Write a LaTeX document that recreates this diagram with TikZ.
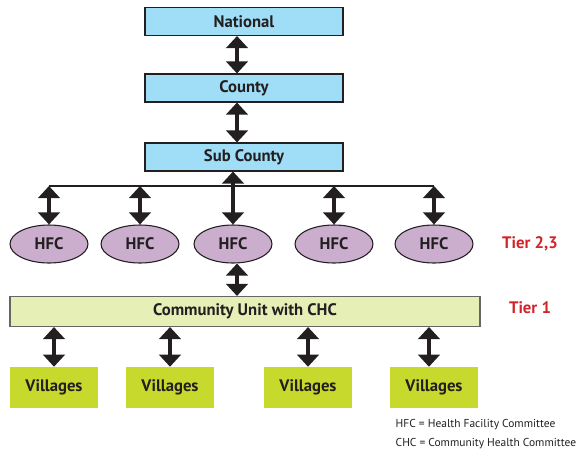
\documentclass[tikz,border=0pt]{standalone}
\usepackage{fontspec}
\setmainfont{PT Sans}
\usepackage{tikz}
\usetikzlibrary{arrows.meta}
\usetikzlibrary{shapes.geometric}

\definecolor{inkgray}{RGB}{35,31,32}
\definecolor{levelblue}{RGB}{160,221,246}
\definecolor{hfcpurple}{RGB}{203,173,206}
\definecolor{unitgreen}{RGB}{230,239,182}
\definecolor{villagegreen}{RGB}{200,217,46}
\definecolor{tierred}{RGB}{210,35,42}

\begin{document}
\begin{tikzpicture}[x=0.75pt,y=-0.75pt,
  level/.style={draw=inkgray, line width=0.8pt, fill=levelblue, minimum width=148.5pt,
    minimum height=21pt, inner sep=0pt, text=inkgray, font=\bfseries\fontsize{12.5}{14}\selectfont},
  hfc/.style={ellipse, draw=inkgray, line width=0.8pt, fill=hfcpurple, minimum width=58.5pt,
    minimum height=28.5pt, inner sep=0pt, text=inkgray, font=\bfseries\fontsize{12.5}{14}\selectfont},
  unit/.style={draw=black!60, line width=0.8pt, fill=unitgreen, minimum width=352.5pt,
    minimum height=22.5pt, inner sep=0pt, text=inkgray, font=\bfseries\fontsize{12.5}{14}\selectfont},
  village/.style={fill=villagegreen, minimum width=66pt, minimum height=30.75pt, inner sep=0pt,
    text=inkgray, font=\bfseries\fontsize{12.5}{14}\selectfont},
  tier/.style={text=tierred, font=\bfseries\fontsize{12.5}{14}\selectfont},
  note/.style={anchor=west, text=inkgray, font=\fontsize{8.6}{10}\selectfont},
  updown/.style={{Triangle[width=16pt,length=9pt]}-{Triangle[width=16pt,length=9pt]},
    line width=2.6pt, draw=inkgray}
]
\useasboundingbox (0,0) rectangle (576,451);
%%% levels
\node[level] (national) at (244,21.5) {National};
\node[level] (county) at (244,88) {County};
\node[level] (subcounty) at (244,157) {Sub County};
% draws arrows
\draw[updown] (237,0 |- national.south) -- (237,0 |- county.north);
\draw[updown] (237,0 |- county.south) -- (237,0 |- subcounty.north);
%%% HFCs
\node[hfc] (hfc1) at (49,244) {HFC};
\node[hfc] (hfc2) at (140,244) {HFC};
\node[hfc] (hfc3) at (233,244) {HFC};
\node[hfc] (hfc4) at (334,244) {HFC};
\node[hfc] (hfc5) at (434,244) {HFC};
% bar under sub county
\coordinate (bar) at (0,186);
\draw[inkgray, line width=1.1pt] (hfc1 |- bar) -- (hfc5 |- bar);
\foreach \i in {1,2,4,5}
  \draw[updown] (hfc\i |- bar) -- (hfc\i.north);
\draw[updown] (hfc3 |- subcounty.south) -- (hfc3.north);
%%% community unit
\node[unit] (cu) at (245,311.5) {Community Unit with CHC};
\draw[updown] (237,0 |- hfc3.south) -- (237,0 |- cu.north);
%%% villages
\node[village] (v1) at (54,387.5) {Villages};
\node[village] (v2) at (170,387.5) {Villages};
\node[village] (v3) at (308,387.5) {Villages};
\node[village] (v4) at (434,387.5) {Villages};
\draw[updown] (54,0 |- cu.south) -- (v1.north);
\draw[updown] (170,0 |- cu.south) -- (v2.north);
\draw[updown] (308,0 |- cu.south) -- (v3.north);
\draw[updown] (429,0 |- cu.south) -- (429,0 |- v4.north);
%%% tiers and legend
\node[tier] (tier23) at (530,244) {Tier 2,3};
\node[tier] (tier1) at (530,308) {Tier 1};
\node[note] (hfcnote) at (391,425) {HFC = Health Facility Committee};
\node[note] (chcnote) at (391,443.5) {CHC = Community Health Committee};
\end{tikzpicture}
\end{document}
